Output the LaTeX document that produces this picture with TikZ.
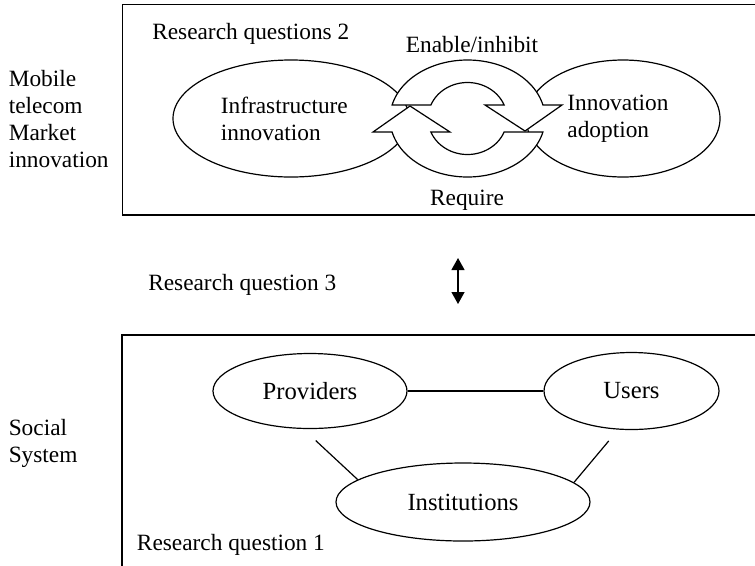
\documentclass[tikz,border=0pt]{standalone}
\usepackage{fontspec}
\setmainfont{Liberation Serif}
\usetikzlibrary{arrows.meta,shapes.geometric}
\newcommand\mainsize{\fontsize{17.5pt}{20.2pt}\selectfont}
\newcommand\nodesize{\fontsize{18.5pt}{21pt}\selectfont}
\begin{document}
\begin{tikzpicture}[x=0.75pt,y=-0.75pt,
  frame/.style={line width=1pt},
  blob/.style={ellipse,draw,line width=0.9pt,inner sep=0pt,align=left,font=\mainsize},
  blobtwo/.style={ellipse,draw,line width=0.9pt,inner sep=0pt,font=\nodesize},
  label/.style={inner sep=0pt,font=\mainsize,align=left},
  ring/.style={draw,fill=white,line width=0.9pt,line join=miter},
  link/.style={line width=0.9pt},
  dbl/.style={line width=0.9pt,{Triangle[length=9pt,width=9.75pt]}-{Triangle[length=9pt,width=9.75pt]}}]
\useasboundingbox (0,0) rectangle (755,565);

% upper frame: market innovation
\draw[frame] (757,4.5) -| (122.5,215) -- (757,215);
\node[label,anchor=base west] (rqtwo) at (152,39) {Research questions 2};
% multi-line labels are placed by the baseline of their last line
\node[label,anchor=base west] (mkt) at (8.5,167) {Mobile\\telecom\\Market\\innovation};

% trailing space keeps the text block a little left of the ellipse centre
\node[blob,minimum width=177pt,minimum height=87.75pt] (infra) at (291,118.5) {Infrastructure\hspace*{10pt}\\innovation};
\node[blob,minimum width=145.5pt,minimum height=87.75pt] (adopt) at (623,118.5) {Innovation\hspace*{7.5pt}\\adoption};

% cycle of two curved arrows between the ellipses
\draw[ring] plot[domain=13.34:166.66,samples=60,variable=\t] ({467.5+77.5*cos(\t)},{118.5+58.5*sin(\t)})
  -- (373,132) -- (410,106) -- (450,132)
  -- plot[domain=157.98:22.02,samples=60,variable=\t] ({467.5+39.5*cos(\t)},{118.5+36*sin(\t)}) -- cycle;
\draw[ring] plot[domain=193.34:346.66,samples=60,variable=\t] ({467.5+77.5*cos(\t)},{118.5+58.5*sin(\t)})
  -- (562,105) -- (525,131) -- (485,105)
  -- plot[domain=337.98:202.02,samples=60,variable=\t] ({467.5+39.5*cos(\t)},{118.5+36*sin(\t)}) -- cycle;

\node[label,anchor=base] (enable) at (472,52) {Enable/inhibit};
\node[label,anchor=base] (require) at (467,205) {Require};

% link between the two levels
\node[label,anchor=base west] (rqthree) at (148,290) {Research question 3};
\coordinate (up) at (458,258);
\coordinate (dn) at (458,304);
\draw[dbl] (up) -- (dn);

% lower frame: social system
\draw[frame] (757,335) -| (122,567);
\node[label,anchor=base west] (soc) at (8.5,462) {Social\\System};
\node[label,anchor=base west] (rqone) at (136.7,550) {Research question 1};

\node[blobtwo,minimum width=145.5pt,minimum height=56.25pt] (prov) at (310,391) {Providers};
\node[blobtwo,minimum width=131.25pt,minimum height=57.75pt] (users) at (631.5,391) {Users};
\node[blobtwo,minimum width=190.5pt,minimum height=58.5pt] (inst) at (463,502) {Institutions};

\draw[link] (prov) -- (users);
\draw[link,shorten <=12.7pt] (prov.-100) -- (inst.168.5);
\draw[link,shorten <=11pt] (users.-109.4) -- (inst.10.7);
\end{tikzpicture}
\end{document}
